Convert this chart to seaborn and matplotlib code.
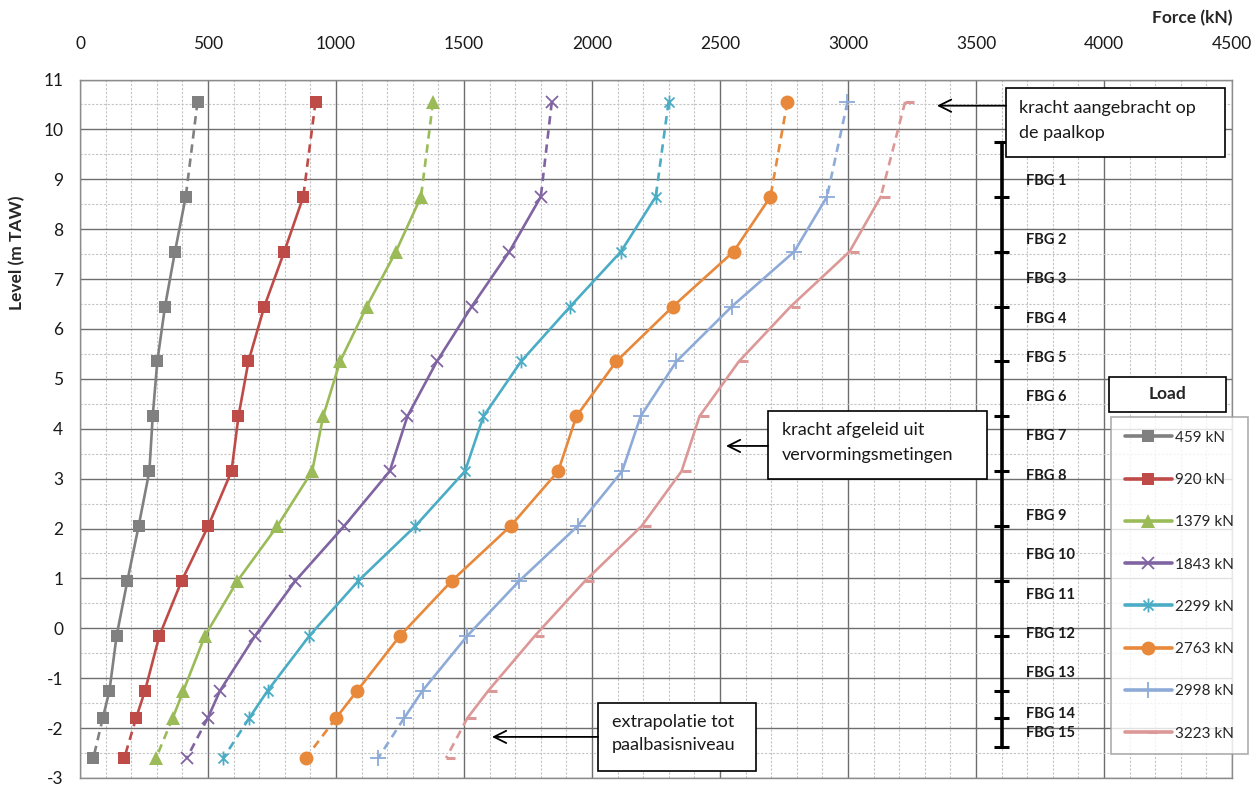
import numpy as np
import pandas as pd
import matplotlib
matplotlib.use("Agg")
import matplotlib.pyplot as plt
from matplotlib.lines import Line2D
from matplotlib.path import Path
from matplotlib.patches import Rectangle
import seaborn as sns

# ---- data -------------------------------------------------------------
levels = [10.55, 8.65, 7.55, 6.45, 5.35, 4.25, 3.15, 2.05, 0.95, -0.15, -1.25, -1.80, -2.60]

load_labels = ["459 kN", "920 kN", "1379 kN", "1843 kN", "2299 kN", "2763 kN", "2998 kN", "3223 kN"]

f459 = [459, 413, 371, 332, 302, 284, 271, 229, 185, 143, 115, 89, 52]
f920 = [920, 872, 798, 720, 658, 619, 592, 501, 397, 310, 254, 219, 173]
f1379 = [1379, 1332, 1234, 1120, 1016, 950, 907, 771, 615, 488, 404, 362, 297]
f1843 = [1843, 1800, 1677, 1530, 1394, 1279, 1210, 1032, 841, 684, 547, 499, 417]
f2299 = [2299, 2249, 2113, 1915, 1723, 1576, 1504, 1310, 1087, 896, 733, 661, 560]
f2763 = [2763, 2697, 2553, 2316, 2095, 1939, 1868, 1682, 1452, 1250, 1083, 1000, 882]
f2998 = [2998, 2918, 2790, 2546, 2330, 2190, 2118, 1944, 1716, 1513, 1338, 1266, 1165]
f3223 = [3223, 3128, 3006, 2776, 2574, 2420, 2350, 2194, 1973, 1777, 1595, 1513, 1430]

series = [f459, f920, f1379, f1843, f2299, f2763, f2998, f3223]

# fibre Bragg grating sensors along the pile
fbg_names = [f"FBG {i}" for i in range(1, 16)]
fbg_label_levels = [8.97, 7.79, 7.01, 6.20, 5.41, 4.63, 3.86, 3.05, 2.25, 1.46, 0.67, -0.12, -0.905, -1.71, -2.09]
pile_tick_levels = levels[1:12]
pile_top, pile_bottom = 9.74, -2.38
pile_x = 3600

x_ticks = [0, 500, 1000, 1500, 2000, 2500, 3000, 3500, 4000, 4500]
y_ticks = list(range(-3, 12))

# ---- styling ----------------------------------------------------------
colors = ["#808080", "#be4b48", "#9bbb59", "#8064a2", "#4bacc6", "#e8883a", "#8eabd8", "#dc9896"]

asterisk = Path([(0, -1), (0, 1), (-0.72, -0.72), (0.72, 0.72), (-0.72, 0.72), (0.72, -0.72)],
                [Path.MOVETO, Path.LINETO, Path.MOVETO, Path.LINETO, Path.MOVETO, Path.LINETO])
halfdash = Path([(0, 0), (1, 0)], [Path.MOVETO, Path.LINETO])

marker_styles = [
    dict(marker="s", markersize=9, markeredgewidth=0),
    dict(marker="s", markersize=9, markeredgewidth=0),
    dict(marker="^", markersize=10, markeredgewidth=0),
    dict(marker="x", markersize=9, markeredgewidth=1.3),
    dict(marker=asterisk, markersize=10, markeredgewidth=1.3),
    dict(marker="o", markersize=10, markeredgewidth=0),
    dict(marker="+", markersize=11, markeredgewidth=1.3),
    dict(marker=halfdash, markersize=13, markeredgewidth=2.2),
]

sns.set_style("white")
plt.rcParams["font.family"] = ["Lato", "DejaVu Sans"]
plt.rcParams["axes.unicode_minus"] = False

W, H = 1253, 785
fig = plt.figure(figsize=(W / 100, H / 100), dpi=100)
ax = fig.add_axes([80 / W, 1 - 778 / H, (1232 - 80) / W, (778 - 79.5) / H])

lw = 1.9
for vals, col, ms in zip(series, colors, marker_styles):
    df = pd.DataFrame({"force": vals, "level": levels})
    top = df.iloc[0:2]
    mid = df.iloc[1:12]
    bot = df.iloc[11:13]
    for seg, ls in ((top, (0, (3.2, 2.2))), (bot, (0, (3.2, 2.2))), (mid, "-")):
        sns.lineplot(data=seg, x="force", y="level", sort=False, estimator=None,
                     color=col, linewidth=lw, linestyle=ls, ax=ax, zorder=3)
    sns.lineplot(data=df, x="force", y="level", sort=False, estimator=None,
                 color=col, linestyle="", markerfacecolor=col, markeredgecolor=col,
                 ax=ax, zorder=4, **ms)

# pile with sensor positions
ax.plot([pile_x, pile_x], [pile_top, pile_bottom], color="black", lw=2.6, zorder=5,
        solid_capstyle="butt")
for lv in pile_tick_levels + [pile_top, pile_bottom]:
    ax.plot([pile_x - 28, pile_x + 28], [lv, lv], color="black", lw=2.2, zorder=5,
            solid_capstyle="butt")
for name, lv in zip(fbg_names, fbg_label_levels):
    ax.text(3695, lv, name, fontsize=10.5, fontweight="bold", ha="left", va="center",
            color="#1a1a1a", zorder=6)

# axes, ticks and grid
ax.set_xlim(0, 4500)
ax.set_ylim(-3, 11)
ax.xaxis.tick_top()
ax.set_xticks(x_ticks)
ax.set_yticks(y_ticks)
ax.set_xticks(np.arange(0, 4501, 100), minor=True)
ax.set_yticks(np.arange(-3, 11.01, 0.5), minor=True)
ax.tick_params(axis="both", which="both", length=0, labelsize=12.5, colors="#1a1a1a")
ax.tick_params(axis="x", pad=20)
ax.tick_params(axis="y", pad=12)
ax.grid(which="major", color="#6e6e6e", lw=1.0, zorder=0)
ax.grid(which="minor", color="#c4c4c4", lw=0.8, linestyle=(0, (2, 1.5)), zorder=0)
ax.set_axisbelow(True)
for sp in ax.spines.values():
    sp.set_color("#8c8c8c")
    sp.set_linewidth(1.0)
ax.set_xlabel("")
ax.set_ylabel("")

fig.text(1232 / W, 1 - 18 / H, "Force (kN)", fontsize=12.5, fontweight="bold",
         ha="right", va="center")
fig.text(17 / W, 1 - 253 / H, "Level (m TAW)", fontsize=12.5, fontweight="bold",
         rotation=90, ha="center", va="center")


def px_to_data(px, py):
    return (px - 80) / 0.256, 11 - (py - 79.5) / 49.9


# annotation boxes with arrows
boxes = [
    ((1006, 88, 1225, 157), 1019, ["kracht aangebracht op", "de paalkop"], (108, 133), (105.7, 937)),
    ((768, 411, 987, 479), 782, ["kracht afgeleid uit", "vervormingsmetingen"], (430, 455), (446, 726)),
    ((598, 703, 756, 771), 612, ["extrapolatie tot", "paalbasisniveau"], (722, 745), (737, 492)),
]
for (x0, y0, x1, y1), tx, lines, lys, (ay, tip) in boxes:
    dx0, dy0 = px_to_data(x0, y1)
    dx1, dy1 = px_to_data(x1, y0)
    ax.add_patch(Rectangle((dx0, dy0), dx1 - dx0, dy1 - dy0, facecolor="white",
                           edgecolor="black", lw=1.2, zorder=7))
    for line, ly in zip(lines, lys):
        xx, yy = px_to_data(tx, ly)
        ax.text(xx, yy, line, fontsize=13, ha="left", va="center", zorder=8, color="#1a1a1a")
    ax0, ay0 = px_to_data(x0, ay)
    ax1, _ = px_to_data(tip, ay)
    ax.annotate("", xy=(ax1, ay0), xytext=(ax0, ay0),
                arrowprops=dict(arrowstyle="->", lw=1.3, color="black", mutation_scale=22,
                                shrinkA=0, shrinkB=0), zorder=8)

# legend
handles = [Line2D([0], [0], color=c, lw=2.6, markerfacecolor=c, markeredgecolor=c, **ms)
           for c, ms in zip(colors, marker_styles)]
leg = ax.legend(handles, load_labels, loc="upper left",
                bbox_to_anchor=(1111 / W, 1 - 417 / H), bbox_transform=fig.transFigure,
                borderaxespad=0, fontsize=11, labelspacing=1.85, handlelength=3.1,
                handletextpad=0.2, borderpad=0.9, frameon=True, fancybox=False)
leg.get_frame().set_edgecolor("#9a9a9a")
leg.get_frame().set_linewidth(1.2)
leg.set_zorder(9)

tx0, ty0 = px_to_data(1109, 412)
tx1, ty1 = px_to_data(1226, 377)
ax.add_patch(Rectangle((tx0, ty0), tx1 - tx0, ty1 - ty0, facecolor="white",
                       edgecolor="black", lw=1.2, zorder=9))
cx, cy = px_to_data((1109 + 1226) / 2, 394.5)
ax.text(cx, cy, "Load", fontsize=12.5, fontweight="bold", ha="center", va="center", zorder=10)

fig.savefig("out.png", dpi=100)
